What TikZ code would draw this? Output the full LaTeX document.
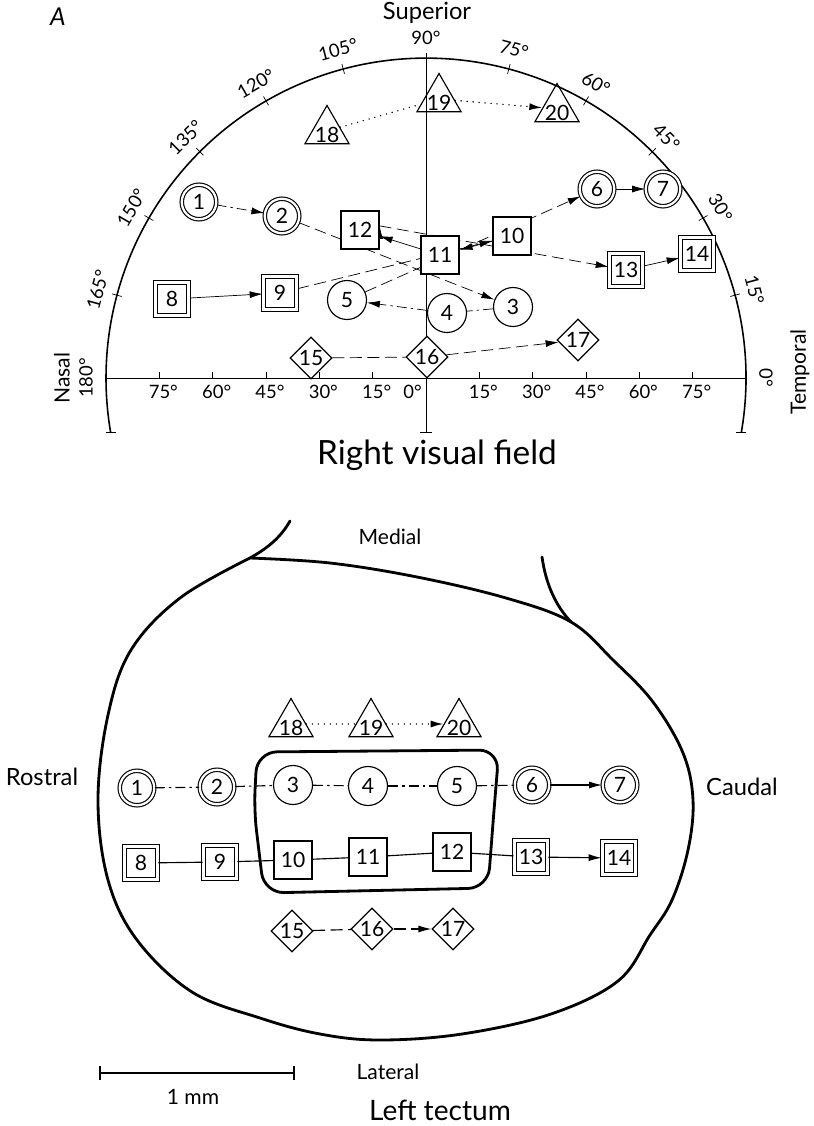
\documentclass[tikz,border=0pt]{standalone}
\usepackage{fontspec}
\setmainfont{Lato}
\usepackage{tikz}
\usetikzlibrary{arrows.meta}
\usetikzlibrary{shapes.geometric}
\usetikzlibrary{backgrounds}

\newcommand{\numfont}{\fontsize{12}{12}\selectfont}
% number sitting low inside a triangle, without growing the shape
\newcommand{\tnum}[1]{\smash{\makebox[0pt]{\raisebox{-0.55em}{#1}}}}

\tikzset{
    circ/.style = {circle, draw=black, fill=white, inner sep=0pt, minimum size=7.8mm, font=\numfont},
    dcirc/.style = {circle, draw=black, fill=white, double, double distance=0.45mm, inner sep=0pt, minimum size=6.9mm, font=\numfont},
    sq/.style = {rectangle, draw=black, fill=white, inner sep=0pt, minimum size=7.6mm, font=\numfont},
    dsq/.style = {rectangle, draw=black, fill=white, double, double distance=0.6mm, inner sep=0pt, minimum size=6.7mm, font=\numfont},
    diam/.style = {diamond, aspect=1, draw=black, fill=white, inner sep=0pt, minimum width=8.4mm, minimum height=8.4mm, font=\numfont},
    tri/.style = {regular polygon, regular polygon sides=3, draw=black, inner sep=0pt, minimum size=10.2mm, font=\numfont},
    lab/.style = {font=\fontsize{12}{14}\selectfont},
    labb/.style = {font=\fontsize{13.5}{16}\selectfont},
    ttl/.style = {font=\fontsize{16}{19}\selectfont},
    degl/.style = {font=\fontsize{10.5}{12}\selectfont, inner sep=1pt},
    side/.style = {font=\fontsize{12}{14}\selectfont, rotate=90},
}

\begin{document}
\begin{tikzpicture}[
	x=0.2mm, y=-0.2mm,
	line width=0.65pt
]
\tikzset{
    edgen/.style = {-},
    edgea/.style = {-{Latex[length=2.6mm,width=1.4mm]}},
    edgel/.style = {dash pattern=on 2.4mm off 1.1mm},
    edged/.style = {dash pattern=on 2mm off 0.8mm on 0.5mm off 0.8mm},
    edgep/.style = {line cap=round, dash pattern=on 0pt off 1.2mm, line width=0.9pt},
    outline/.style = {line width=1.6pt, line join=round, line cap=round},
}
\useasboundingbox (0,0) rectangle (813,1126);
%
% ---- right visual field ----
\node[labb] (sup) at (427,13) {Superior};
\node[font=\fontsize{14}{16}\selectfont\itshape] (panel) at (58,17) {A};
\node[side] (nasal) at (62,378) {Nasal};
\node[side] (temp) at (800,372) {Temporal};
\node[ttl, font=\fontsize{19}{22}\selectfont] (rvf) at (437,455) {Right visual field};
%
\node[dcirc] (f1) at (199,202) {1};
\node[dcirc] (f2) at (282,216) {2};
\node[circ] (f3) at (513,307) {3};
\node[circ] (f4) at (447,313) {4};
\node[circ] (f5) at (347,300) {5};
\node[dcirc] (f6) at (597,189) {6};
\node[dcirc] (f7) at (663,189) {7};
\node[dsq] (f8) at (172,299) {8};
\node[dsq] (f9) at (280,293) {9};
\node[sq] (f10) at (512,236) {10};
\node[sq] (f11) at (440,255) {11};
\node[sq] (f12) at (360,230) {12};
\node[dsq] (f13) at (626,270) {13};
\node[dsq] (f14) at (697,254) {14};
\node[diam] (f15) at (311,358) {15};
\node[diam] (f16) at (427,357) {16};
\node[diam] (f17) at (578,340) {17};
\node[tri] (f18) at (327,131) {\tnum{18}};
\node[tri] (f19) at (439,99) {\tnum{19}};
\node[tri] (f20) at (557,109) {\tnum{20}};
%
% degree labels round the perimeter and along the meridian
\foreach \a in {0,15,...,180}
    \node[degl, rotate=\a-90] (deg\a) at ({426+340*cos(\a)},{378-340*sin(\a)}) {\a°};
\foreach \d in {15,30,45,60,75}{
    \node[degl, anchor=north] (hl\d) at ({430-\d*32/9},383) {\d°};
    \node[degl, anchor=north] (hr\d) at ({430+\d*32/9},383) {\d°};
}
\node[degl, anchor=north east] (h0) at (424,383) {0°};
%
\begin{scope}[on background layer]
\draw[line width=0.9pt] (741.4,432) arc[start angle=9.7, end angle=-189.7, radius=320];
\draw (736.4,432) -- (746.4,432);
\draw (105.6,432) -- (115.6,432);
\draw (106,378) -- (746,378);
\draw (426,58) -- (426,432);
\draw (420,432) -- (432,432);
\foreach \a in {15,30,...,165}
    \draw ({426+315*cos(\a)},{378-315*sin(\a)}) -- ({426+325*cos(\a)},{378-325*sin(\a)});
\foreach \d in {15,30,45,60,75}{
    \draw ({426-\d*32/9},372) -- ({426-\d*32/9},378);
    \draw ({426+\d*32/9},372) -- ({426+\d*32/9},378);
}
%
\draw[edged,edgea] (f1) edge (f2);
\draw[edgel,edgea] (f2) edge (f3);
\draw[edged] (f3) edge (f4);
\draw[edged,edgea] (f4) edge (f5);
\draw[edgel,edgea] (f5) edge (f6);
\draw[edgea] (f6) edge (f7);
%
\draw[edgea] (f8) edge (f9);
\draw[edgel,edgea] (f9) edge (f10);
\draw[edgea] (f10) edge (f11);
\draw[edgea] (f11) edge (f12);
\draw[edgel,edgea] (f12.12) edge (f13);
\draw[edgea] (f13) edge (f14);
%
\draw[edgel] (f15) edge (f16);
\draw[edgel,edgea] (f16) edge (f17);
\draw[edgep] (f18) edge (f19);
\draw[edgep,edgea] (f19) edge (f20);
\end{scope}
%
% ---- left tectum ----
\node[lab] (med) at (390,537) {Medial};
\node[labb] (ros) at (42,777) {Rostral};
\node[labb] (cau) at (742,787) {Caudal};
\node[lab] (lat) at (388,1072) {Lateral};
\node[lab] (mm) at (193,1097) {1 mm};
\node[ttl] (lt) at (440,1110) {Left tectum};
%
\draw[outline] plot[smooth, tension=0.6] coordinates {(250,558) (330,563) (417,577) (506,598) (571,622)
    (613,660) (653,702) (683,753) (693,800) (688,850) (672,900) (650,935) (618,981) (551,1014)
    (462,1034) (380,1040) (320,1034) (260,1018) (192,992) (137,940) (108,880) (98,800) (108,715)
    (131,650) (180,598) (250,558)};
\draw[outline] (250,558) .. controls (268,548) and (281,537) .. (290,521);
\draw[outline] (542,557) .. controls (546,585) and (556,606) .. (571,622);
\draw[outline, rounded corners=4mm] (257,752) -- (499,750) -- (494,810) -- (488,888) -- (264,893) -- (254,810) -- cycle;
%
\draw (100,1073) -- (294,1073);
\draw (100,1066) -- (100,1080);
\draw (294,1066) -- (294,1080);
%
\node[dcirc] (t1) at (137,788) {1};
\node[dcirc] (t2) at (217,787) {2};
\node[circ] (t3) at (293,785) {3};
\node[circ] (t4) at (368,786) {4};
\node[circ] (t5) at (457,786) {5};
\node[dcirc] (t6) at (532,785) {6};
\node[dcirc] (t7) at (620,785) {7};
\node[dsq] (t8) at (141,863) {8};
\node[dsq] (t9) at (220,862) {9};
\node[sq] (t10) at (293,860) {10};
\node[sq] (t11) at (368,857) {11};
\node[sq] (t12) at (452,852) {12};
\node[dsq] (t13) at (531,857) {13};
\node[dsq] (t14) at (619,858) {14};
\node[diam] (t15) at (292,931) {15};
\node[diam] (t16) at (372,929) {16};
\node[diam] (t17) at (453,929) {17};
\node[tri] (t18) at (291,724) {\tnum{18}};
\node[tri] (t19) at (371,724) {\tnum{19}};
\node[tri] (t20) at (459,724) {\tnum{20}};
%
\draw[edged] (t1) edge (t2);
\draw[edged] (t2) edge (t3);
\draw[edged] (t3) edge (t4);
\draw[edged] (t4) edge (t5);
\draw[edged] (t5) edge (t6);
\draw[edgea] (t6) edge (t7);
%
\draw[edgen] (t8) edge (t9);
\draw[edgen] (t9) edge (t10);
\draw[edgen] (t10) edge (t11);
\draw[edgen] (t11) edge (t12);
\draw[edgen] (t12) edge (t13);
\draw[edgea] (t13) edge (t14);
%
\draw[edgel] (t15) edge (t16);
\draw[edgel,edgea] (t16) edge (t17);
\draw[edgep] (t18) edge (t19);
\draw[edgep,edgea] (t19) edge (t20);
\end{tikzpicture}
\end{document}
